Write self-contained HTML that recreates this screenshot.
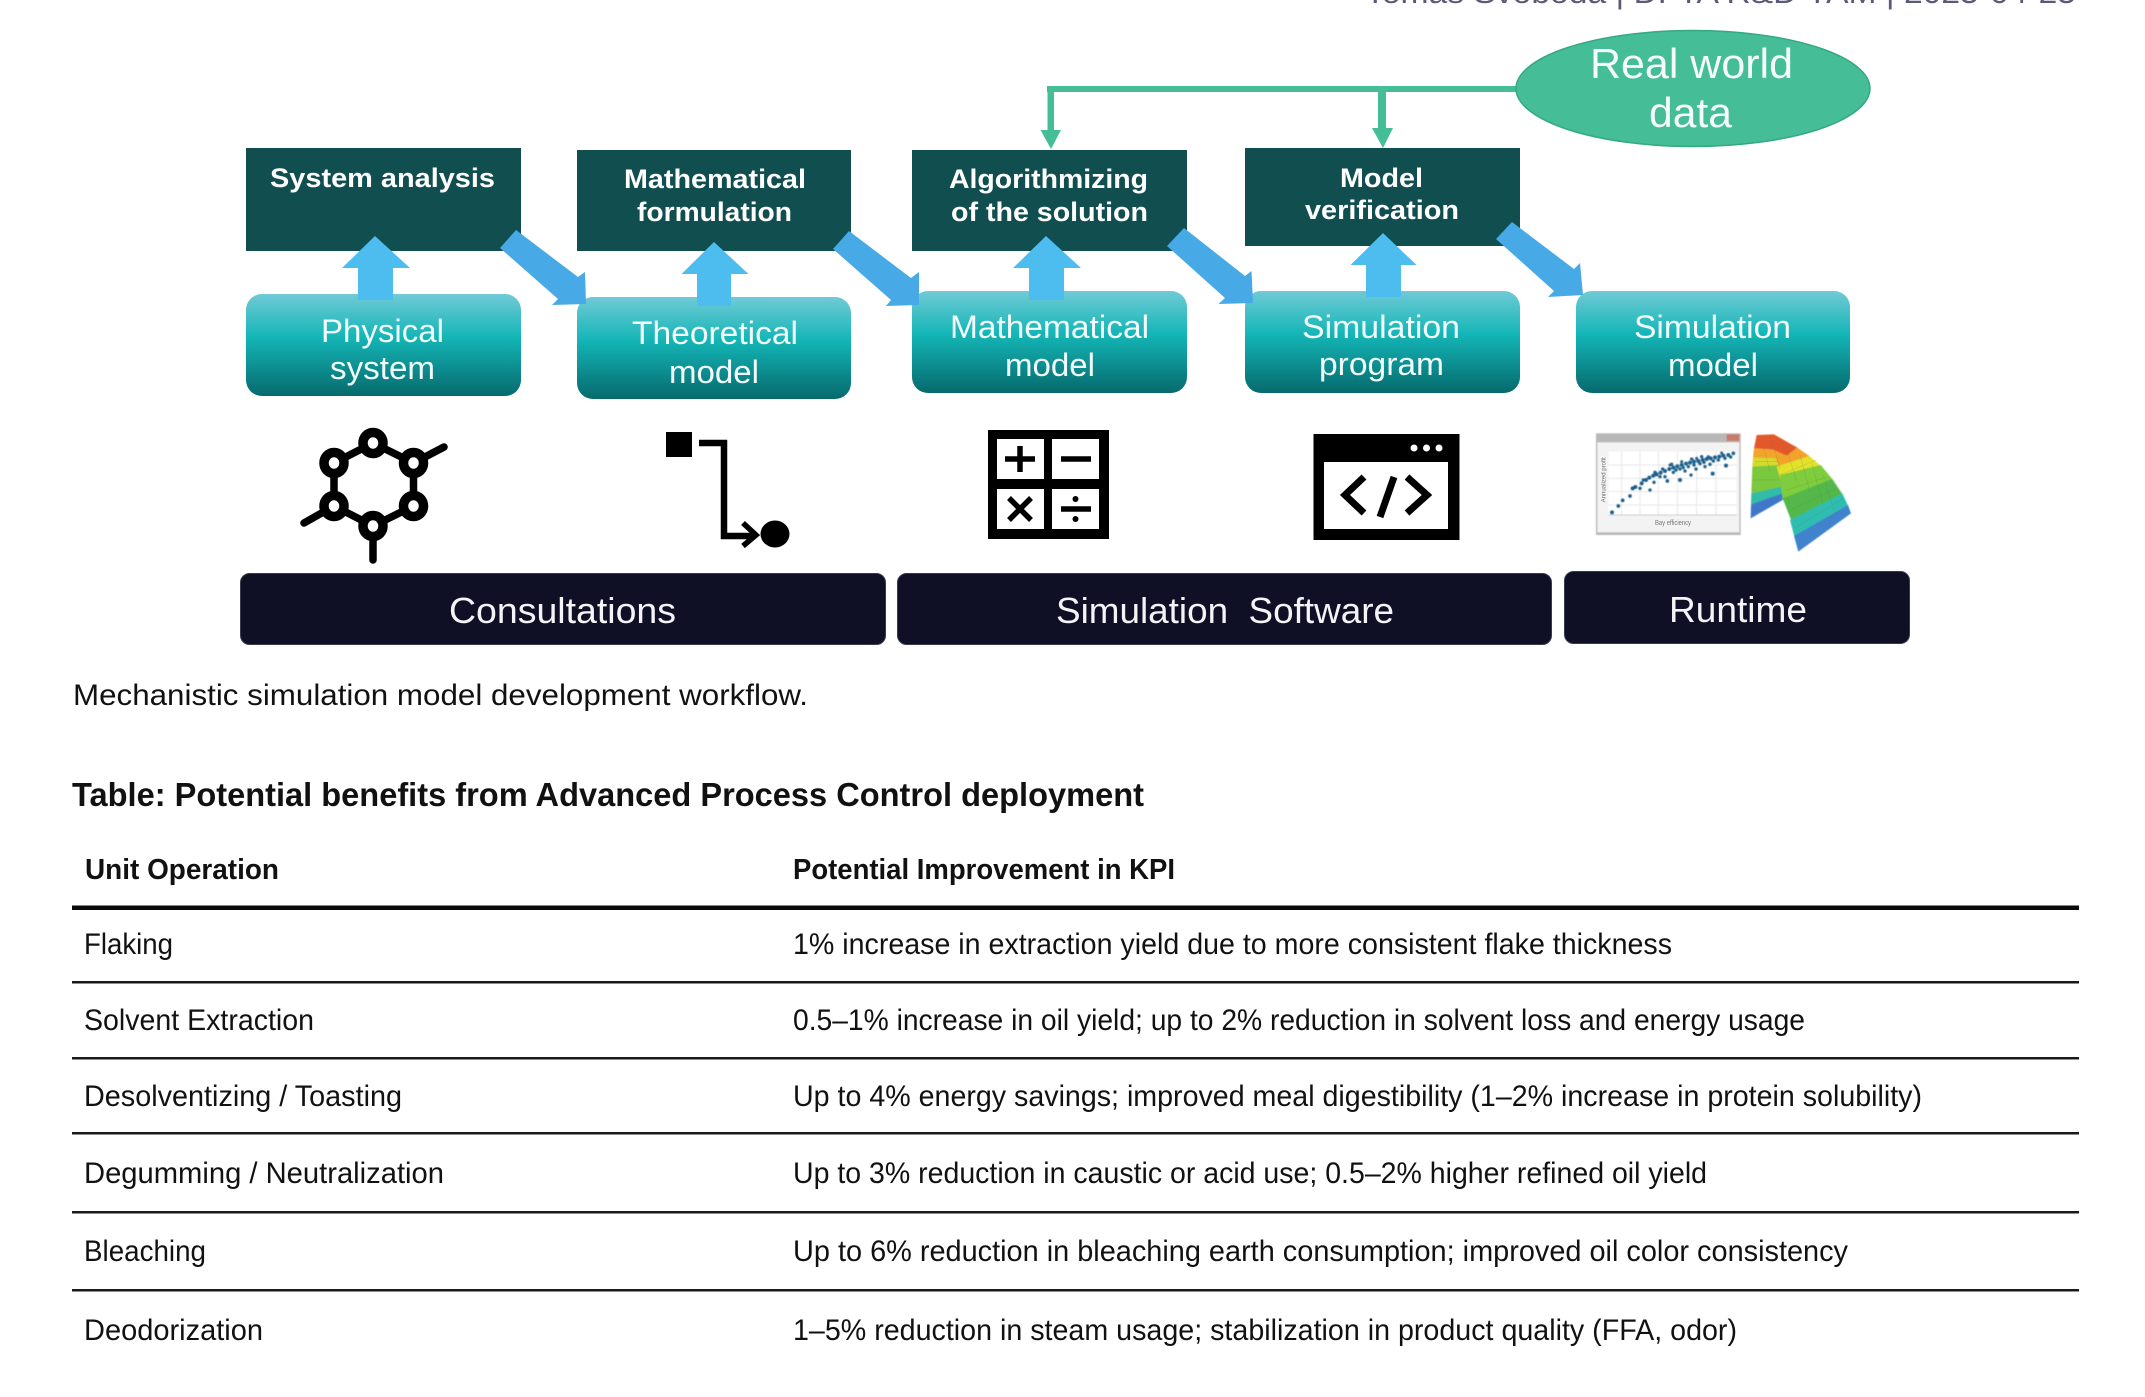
<!DOCTYPE html>
<html lang="en">
<head>
<meta charset="utf-8">
<title>Mechanistic simulation model development workflow</title>
<style>
html,body{margin:0;padding:0;background:#fff;}
body{width:2145px;height:1397px;overflow:hidden;}
svg{display:block;}
text{font-family:"Liberation Sans",sans-serif;}
.d{fill:#fff;font-weight:bold;font-size:27px;}
.l{fill:#f2fbfb;font-size:32px;}
.b{fill:#f4f4f8;font-size:36px;}
.t{fill:#111;font-size:30px;}
.h{fill:#111;font-size:29px;font-weight:bold;}
</style>
</head>
<body>
<svg width="2145" height="1397" viewBox="0 0 2145 1397" xmlns="http://www.w3.org/2000/svg">
<defs>
<linearGradient id="tg" x1="0" y1="0" x2="0" y2="1">
<stop offset="0" stop-color="#70cad6"/><stop offset=".42" stop-color="#14b6b7"/><stop offset="1" stop-color="#066a6d"/>
</linearGradient>
<filter id="soft"><feGaussianBlur stdDeviation="1.6"/></filter>
</defs>
<rect width="2145" height="1397" fill="#fff"/>

<!-- clipped header -->
<text x="1365" y="3" font-size="31" fill="#5a5a78" textLength="711" lengthAdjust="spacingAndGlyphs">Tomas Svoboda | DFTA R&amp;D YAM | 2025-04-25</text>

<!-- Real world data -->
<rect x="1047" y="86" width="470" height="6" fill="#45bd96"/>
<rect x="1047.500" y="86" width="6.500" height="46" fill="#45bd96"/>
<polygon points="1040.500,130 1061,130 1051,149" fill="#45bd96"/>
<rect x="1378" y="86" width="8" height="44" fill="#45bd96"/>
<polygon points="1372,128 1393,128 1383,148" fill="#45bd96"/>
<ellipse cx="1693" cy="88.500" rx="177" ry="58" fill="#45bd96" stroke="#35a884" stroke-width="1.500"/>
<text x="1590" y="78" font-size="42" fill="#f4fbf8" textLength="203" lengthAdjust="spacingAndGlyphs">Real world</text>
<text x="1649" y="127" font-size="42" fill="#f4fbf8" textLength="83" lengthAdjust="spacingAndGlyphs">data</text>

<!-- dark boxes -->
<g fill="#114e4f">
<rect x="246" y="148" width="275" height="103"/>
<rect x="577" y="150" width="274" height="101"/>
<rect x="912" y="150" width="275" height="101"/>
<rect x="1245" y="148" width="275" height="98"/>
</g>
<text class="d" x="270" y="187" textLength="225" lengthAdjust="spacingAndGlyphs">System analysis</text>
<text class="d" x="624" y="188" textLength="182" lengthAdjust="spacingAndGlyphs">Mathematical</text>
<text class="d" x="637" y="221" textLength="155" lengthAdjust="spacingAndGlyphs">formulation</text>
<text class="d" x="949" y="188" textLength="199" lengthAdjust="spacingAndGlyphs">Algorithmizing</text>
<text class="d" x="951" y="221" textLength="197" lengthAdjust="spacingAndGlyphs">of the solution</text>
<text class="d" x="1340" y="187" textLength="83" lengthAdjust="spacingAndGlyphs">Model</text>
<text class="d" x="1305" y="219" textLength="154" lengthAdjust="spacingAndGlyphs">verification</text>

<!-- teal boxes -->
<g fill="url(#tg)">
<rect x="246" y="294" width="275" height="102" rx="16"/>
<rect x="577" y="297" width="274" height="102" rx="16"/>
<rect x="912" y="291" width="275" height="102" rx="16"/>
<rect x="1245" y="291" width="275" height="102" rx="16"/>
<rect x="1576" y="291" width="274" height="102" rx="16"/>
</g>

<!-- up arrows -->
<g fill="#4dbdf0">
<polygon points="375,236 410,268 393,268 393,300 358,300 358,268 342,268"/>
<polygon points="714,242 748.500,274 731,274 731,306 697,306 697,274 681.500,274"/>
<polygon points="1046,236 1081,268 1064,268 1064,300 1029,300 1029,268 1013,268"/>
<polygon points="1383,233 1416.500,265 1401,265 1401,297 1366,297 1366,265 1350.500,265"/>
</g>

<!-- diagonal arrows -->
<g fill="#47a9e5">
<polygon points="516,230 578,277 585,272 586,304 552,305 558,299 500,248"/>
<polygon points="849,231 911,278 919,272 919,305 886,306 891,300 833,249"/>
<polygon points="1184,228 1245,276 1251.500,271 1253,303 1218.500,304 1225,298 1167,246"/>
<polygon points="1512,222 1574,269 1580,263 1583,295 1548,297 1554,291 1496,239"/>
</g>

<text class="l" x="321" y="342" textLength="123" lengthAdjust="spacingAndGlyphs">Physical</text>
<text class="l" x="330" y="379" textLength="105" lengthAdjust="spacingAndGlyphs">system</text>
<text class="l" x="632" y="344" textLength="166" lengthAdjust="spacingAndGlyphs">Theoretical</text>
<text class="l" x="669" y="383" textLength="90" lengthAdjust="spacingAndGlyphs">model</text>
<text class="l" x="950" y="338" textLength="199" lengthAdjust="spacingAndGlyphs">Mathematical</text>
<text class="l" x="1005" y="376" textLength="90" lengthAdjust="spacingAndGlyphs">model</text>
<text class="l" x="1302" y="338" textLength="158" lengthAdjust="spacingAndGlyphs">Simulation</text>
<text class="l" x="1319" y="375" textLength="125" lengthAdjust="spacingAndGlyphs">program</text>
<text class="l" x="1634" y="338" textLength="157" lengthAdjust="spacingAndGlyphs">Simulation</text>
<text class="l" x="1668" y="376" textLength="90" lengthAdjust="spacingAndGlyphs">model</text>

<!-- molecule icon -->
<path d="M373,443 L413.500,463 L413.500,506 L373,526 L334,506 L334,463 Z M413.500,463 L444,447 M334,506 L304,523 M373,526 L373,560" fill="none" stroke="#000" stroke-width="7.500" stroke-linecap="round"/>
<g fill="#fff" stroke="#000" stroke-width="9.500">
<ellipse cx="373" cy="443" rx="10" ry="10.500"/>
<ellipse cx="413.500" cy="463" rx="10" ry="10.500"/>
<ellipse cx="413.500" cy="506" rx="10" ry="10.500"/>
<ellipse cx="373" cy="526" rx="10" ry="10.500"/>
<ellipse cx="334" cy="506" rx="10" ry="10.500"/>
<ellipse cx="334" cy="463" rx="10" ry="10.500"/>
</g>

<!-- flow icon -->
<rect x="666" y="432" width="26" height="25" fill="#000"/>
<path d="M699,443 H724 V536 H755" fill="none" stroke="#000" stroke-width="6.500"/>
<path d="M743,523 L756,535 L743,546" fill="none" stroke="#000" stroke-width="5.500"/>
<ellipse cx="775" cy="534" rx="14.500" ry="13.500" fill="#000"/>

<!-- calculator icon -->
<rect x="988" y="430" width="121" height="109" fill="#000"/>
<g fill="#fff">
<rect x="997" y="439" width="47" height="40"/>
<rect x="1052" y="439" width="47" height="40"/>
<rect x="997" y="489" width="47" height="40"/>
<rect x="1052" y="489" width="47" height="40"/>
</g>
<g stroke="#000" stroke-width="5.500" fill="none">
<path d="M1005,459 H1035 M1020,446 V472"/>
<path d="M1061,459 H1091"/>
<path d="M1009,498 L1031,520 M1031,498 L1009,520"/>
<path d="M1061,509 H1091"/>
</g>
<circle cx="1075.500" cy="499" r="3" fill="#000"/>
<circle cx="1075.500" cy="519" r="3" fill="#000"/>

<!-- code icon -->
<rect x="1313.500" y="434" width="146" height="106" fill="#000"/>
<rect x="1324" y="462" width="124" height="67" fill="#fff"/>
<g fill="#fff">
<circle cx="1414" cy="448" r="3.500"/>
<circle cx="1426.500" cy="448" r="3.500"/>
<circle cx="1439" cy="448" r="3.500"/>
</g>
<g fill="none" stroke="#000" stroke-width="7">
<path d="M1364,477 L1345,495 L1364,513"/>
<path d="M1394,477 L1380,517"/>
<path d="M1407,477 L1427,495 L1407,513"/>
</g>

<!-- plot + surface (coordinates in 3x crop space) -->
<g transform="translate(1590 425) scale(.33333)">
<g filter="url(#soft)">
<rect x="18" y="25" width="434" height="305" fill="#b8b8b8"/>
<rect x="22" y="52" width="426" height="270" fill="#f3f3f3"/>
<rect x="410" y="28" width="38" height="20" fill="#c97a6a"/>
<rect x="55" y="80" width="385" height="190" fill="#fff"/>
<path d="M95,80V270M150,80V270M205,80V270M262,80V270M320,80V270M378,80V270M55,120H440M55,160H440M55,200H440M55,240H440" stroke="#e6e6e6" stroke-width="3" fill="none"/>
<path d="M55,270H440" stroke="#ccc" stroke-width="3"/>
</g>
<g fill="#1f5f8a" filter="url(#soft)">
<circle cx="66" cy="262" r="6"/><circle cx="85" cy="243" r="5.500"/><circle cx="98" cy="226" r="5.500"/><circle cx="120" cy="213" r="5.500"/>
<circle cx="128" cy="190" r="6"/><circle cx="136" cy="186" r="6"/><circle cx="150" cy="190" r="5"/><circle cx="155" cy="175" r="6"/>
<circle cx="168" cy="165" r="6"/><circle cx="178" cy="158" r="6"/><circle cx="190" cy="152" r="6"/><circle cx="200" cy="148" r="6"/>
<circle cx="212" cy="143" r="6"/><circle cx="225" cy="138" r="6"/><circle cx="238" cy="132" r="6"/><circle cx="250" cy="128" r="6"/>
<circle cx="262" cy="124" r="6"/><circle cx="275" cy="120" r="6"/><circle cx="288" cy="116" r="6"/><circle cx="300" cy="113" r="6"/>
<circle cx="312" cy="110" r="6"/><circle cx="325" cy="108" r="6"/><circle cx="338" cy="105" r="6"/><circle cx="350" cy="102" r="6"/>
<circle cx="362" cy="100" r="6"/><circle cx="375" cy="97" r="6"/><circle cx="388" cy="95" r="6"/><circle cx="400" cy="92" r="6"/>
<circle cx="415" cy="90" r="6"/><circle cx="430" cy="85" r="5.500"/><circle cx="422" cy="96" r="5"/><circle cx="408" cy="122" r="6"/>
<circle cx="368" cy="146" r="6"/><circle cx="270" cy="165" r="6"/><circle cx="232" cy="168" r="5.500"/><circle cx="192" cy="172" r="5"/>
<circle cx="180" cy="195" r="5"/><circle cx="225" cy="155" r="5"/><circle cx="250" cy="142" r="5"/><circle cx="285" cy="138" r="5"/>
<circle cx="303" cy="150" r="5"/><circle cx="318" cy="132" r="5"/><circle cx="345" cy="125" r="5"/><circle cx="360" cy="118" r="5"/>
<circle cx="385" cy="105" r="5"/><circle cx="295" cy="125" r="5"/><circle cx="330" cy="116" r="5"/><circle cx="270" cy="132" r="5"/>
<circle cx="210" cy="155" r="5"/><circle cx="240" cy="120" r="4.500"/><circle cx="275" cy="110" r="4.500"/><circle cx="320" cy="100" r="4.500"/>
<circle cx="355" cy="95" r="4.500"/><circle cx="395" cy="84" r="4.500"/>
<circle cx="218" cy="132" r="5"/><circle cx="245" cy="118" r="5"/><circle cx="258" cy="135" r="5"/><circle cx="280" cy="128" r="5"/>
<circle cx="305" cy="102" r="5"/><circle cx="335" cy="95" r="5"/><circle cx="370" cy="108" r="5"/><circle cx="405" cy="100" r="5"/>
<circle cx="195" cy="142" r="5"/><circle cx="160" cy="165" r="5"/><circle cx="342" cy="112" r="5"/><circle cx="312" cy="120" r="5"/>
</g>
<text x="195" y="300" font-size="21" fill="#777" textLength="108" lengthAdjust="spacingAndGlyphs">Bay efficiency</text>
<text transform="translate(46 232) rotate(-90)" font-size="18" fill="#777" textLength="135" lengthAdjust="spacingAndGlyphs">Annualized profit</text>

<g filter="url(#soft)">
<!-- left panel -->
<polygon points="500,30 550,28 565,75 492,70" fill="#e2592a"/>
<polygon points="492,70 565,75 570,110 489,97" fill="#f2a32a"/>
<polygon points="489,97 570,100 572,135 487,125" fill="#d6d92e"/>
<polygon points="487,125 572,120 576,190 484,205" fill="#79c83e"/>
<polygon points="484,205 576,185 578,207 483,238" fill="#33bba6"/>
<polygon points="483,238 578,205 578,225 482,280" fill="#3f78c9"/>
<!-- right panel -->
<polygon points="530,30 552,28 622,68 590,95 545,75" fill="#e2592a"/>
<polygon points="545,72 590,92 622,68 658,93 570,130" fill="#f2a32a"/>
<polygon points="560,125 658,93 692,122 575,175" fill="#e2e22c"/>
<polygon points="570,150 692,120 727,162 600,240 578,225" fill="#7fcc3e"/>
<polygon points="578,220 727,162 757,207 605,290" fill="#52b848"/>
<polygon points="600,285 757,205 774,242 613,335" fill="#2fbdb0"/>
<polygon points="612,333 774,240 783,265 625,380" fill="#3f82cc"/>
</g>
<path d="M520,60L540,140M545,45L570,130M590,70L620,170M630,90L660,200M665,115L700,240M700,150L735,265M495,110H565M490,165H570M570,150L680,105M590,195L715,155M600,255L740,190M612,310L760,220" stroke="#5c7a50" stroke-width="1.500" stroke-opacity=".35" fill="none"/>
</g>

<!-- bars -->
<g fill="#0f0f26" stroke="#3a3a50" stroke-width="1">
<rect x="240.500" y="573.500" width="645" height="71" rx="9"/>
<rect x="897.500" y="573.500" width="654" height="71" rx="9"/>
<rect x="1564.500" y="571.500" width="345" height="72" rx="9"/>
</g>
<text class="b" x="449" y="623" textLength="227" lengthAdjust="spacingAndGlyphs">Consultations</text>
<text class="b" x="1056" y="623" textLength="338" lengthAdjust="spacingAndGlyphs" xml:space="preserve">Simulation  Software</text>
<text class="b" x="1669" y="622" textLength="138" lengthAdjust="spacingAndGlyphs">Runtime</text>

<!-- caption & title -->
<text class="t" x="73" y="705" textLength="735" lengthAdjust="spacingAndGlyphs">Mechanistic simulation model development workflow.</text>
<text class="h" style="font-size:33px" x="72" y="806" textLength="1072" lengthAdjust="spacingAndGlyphs">Table: Potential benefits from Advanced Process Control deployment</text>

<!-- table -->
<text class="h" x="85" y="879" textLength="194" lengthAdjust="spacingAndGlyphs">Unit Operation</text>
<text class="h" x="793" y="879" textLength="382" lengthAdjust="spacingAndGlyphs">Potential Improvement in KPI</text>
<rect x="72" y="905.500" width="2007" height="4.500" fill="#0a0a0a"/>
<g fill="#1a1a1a">
<rect x="72" y="981" width="2007" height="2.500"/>
<rect x="72" y="1057" width="2007" height="2.500"/>
<rect x="72" y="1132" width="2007" height="2.500"/>
<rect x="72" y="1211" width="2007" height="2.500"/>
<rect x="72" y="1289" width="2007" height="2.500"/>
</g>
<text class="t" x="84" y="954" textLength="89" lengthAdjust="spacingAndGlyphs">Flaking</text>
<text class="t" x="793" y="954" textLength="879" lengthAdjust="spacingAndGlyphs">1% increase in extraction yield due to more consistent flake thickness</text>
<text class="t" x="84" y="1030" textLength="230" lengthAdjust="spacingAndGlyphs">Solvent Extraction</text>
<text class="t" x="793" y="1030" textLength="1012" lengthAdjust="spacingAndGlyphs">0.5–1% increase in oil yield; up to 2% reduction in solvent loss and energy usage</text>
<text class="t" x="84" y="1106" textLength="318" lengthAdjust="spacingAndGlyphs">Desolventizing / Toasting</text>
<text class="t" x="793" y="1106" textLength="1129" lengthAdjust="spacingAndGlyphs">Up to 4% energy savings; improved meal digestibility (1–2% increase in protein solubility)</text>
<text class="t" x="84" y="1183" textLength="360" lengthAdjust="spacingAndGlyphs">Degumming / Neutralization</text>
<text class="t" x="793" y="1183" textLength="914" lengthAdjust="spacingAndGlyphs">Up to 3% reduction in caustic or acid use; 0.5–2% higher refined oil yield</text>
<text class="t" x="84" y="1261" textLength="122" lengthAdjust="spacingAndGlyphs">Bleaching</text>
<text class="t" x="793" y="1261" textLength="1055" lengthAdjust="spacingAndGlyphs">Up to 6% reduction in bleaching earth consumption; improved oil color consistency</text>
<text class="t" x="84" y="1340" textLength="179" lengthAdjust="spacingAndGlyphs">Deodorization</text>
<text class="t" x="793" y="1340" textLength="944" lengthAdjust="spacingAndGlyphs">1–5% reduction in steam usage; stabilization in product quality (FFA, odor)</text>
</svg>
</body>
</html>
